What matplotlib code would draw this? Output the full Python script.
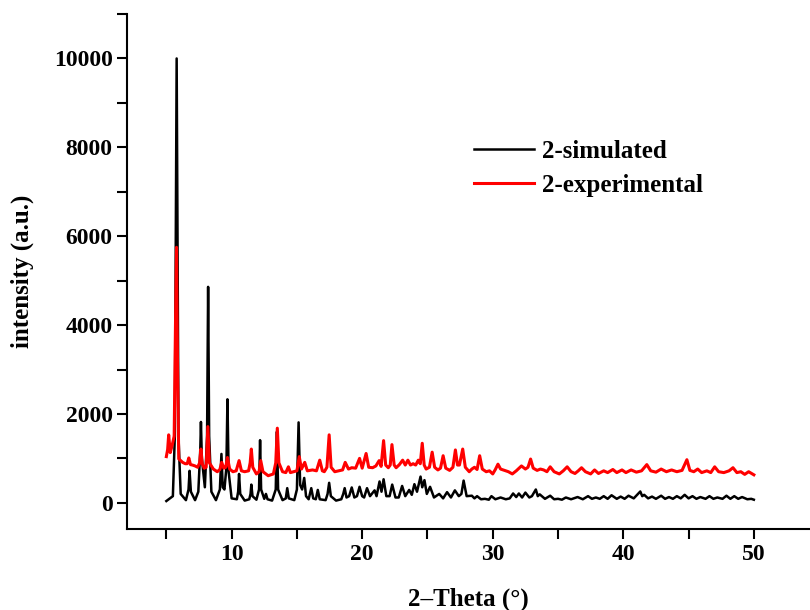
import matplotlib.pyplot as plt
from matplotlib.ticker import MultipleLocator

plt.rcParams['font.family'] = ['Liberation Serif', 'DejaVu Serif']
plt.rcParams['font.weight'] = 'bold'

# simulated pattern, vertices
sim_x = [5.0, 5.5, 5.65, 5.79, 5.93, 6.1, 6.5, 6.7, 6.78, 6.88, 7.2, 7.45, 7.6, 7.65, 7.72,
         7.95, 8.12, 8.2, 8.28, 8.45, 8.8, 9.1, 9.22, 9.32, 9.45, 9.6, 9.68, 9.77, 10.0,
         10.4, 10.5, 10.57, 10.66, 11.0, 11.35, 11.45, 11.51, 11.6, 11.9, 12.1, 12.18, 12.26,
         12.5, 12.63, 12.75, 13.1, 13.38, 13.47, 13.56, 13.9, 14.15, 14.26, 14.38, 14.8,
         15.0, 15.13, 15.25, 15.4, 15.56, 15.7, 15.9, 16.1, 16.25, 16.45, 16.6, 16.75, 17.2,
         17.35, 17.47, 17.6, 18.0, 18.4, 18.55, 18.66, 18.8, 19.0, 19.2, 19.4, 19.6, 19.8,
         20.0, 20.15, 20.37, 20.6, 20.95, 21.1, 21.33, 21.48, 21.64, 21.85, 22.1, 22.3, 22.55,
         22.8, 23.06, 23.3, 23.6, 23.8, 24.0, 24.2, 24.47, 24.6, 24.77, 24.95, 25.2, 25.5,
         25.9, 26.2, 26.5, 26.8, 27.1, 27.4, 27.6, 27.77, 28.0, 28.4, 28.6, 28.8, 29.1, 29.4,
         29.7, 29.9, 30.2, 30.6, 31.0, 31.3, 31.56, 31.8, 32.0, 32.25, 32.5, 32.8, 33.0, 33.3,
         33.45, 33.6, 34.0, 34.4, 34.7, 35.0, 35.3, 35.6, 36.0, 36.5, 36.9, 37.3, 37.6, 37.9,
         38.2, 38.5, 38.8, 39.1, 39.5, 39.8, 40.1, 40.4, 40.8, 41.3, 41.45, 41.6, 41.9, 42.2,
         42.5, 42.9, 43.2, 43.5, 43.8, 44.1, 44.4, 44.7, 45.0, 45.3, 45.6, 45.9, 46.3, 46.6,
         46.9, 47.2, 47.6, 47.9, 48.2, 48.5, 48.8, 49.1, 49.5, 49.8, 50.0]
sim_y = [40, 150, 1500, 10000, 1500, 200, 60, 300, 720, 250, 60, 250, 1200, 1820, 1000,
         350, 1500, 4860, 1500, 250, 60, 300, 1100, 350, 300, 800, 2330, 700, 100,
         80, 250, 650, 200, 50, 80, 200, 410, 150, 70, 300, 1410, 300,
         90, 200, 80, 50, 300, 1600, 300, 60, 100, 330, 100, 60,
         300, 1810, 400, 300, 560, 150, 80, 330, 100, 80, 290, 80, 60,
         200, 450, 150, 50, 80, 200, 330, 120, 150, 345, 120, 150, 360,
         150, 120, 330, 150, 280, 150, 480, 250, 530, 150, 150, 410, 120,
         120, 380, 150, 290, 180, 420, 250, 590, 350, 510, 200, 360, 120,
         200, 100, 240, 120, 280, 150, 200, 500, 150, 160, 100, 150, 80, 90,
         70, 150, 80, 120, 80, 100, 210, 130, 210, 120, 230, 120, 150, 300,
         150, 190, 90, 160, 80, 90, 70, 120, 80, 130, 80, 150, 90, 120,
         90, 150, 90, 170, 90, 140, 90, 160, 100, 255, 150, 180, 100, 140,
         90, 160, 90, 130, 90, 150, 100, 180, 100, 150, 90, 130, 90, 150,
         90, 120, 90, 160, 90, 150, 90, 130, 80, 90, 70]

# experimental pattern
exp_x = [5.0, 5.1, 5.18, 5.3, 5.45, 5.6, 5.7, 5.78, 5.86, 5.95, 6.1, 6.25, 6.45, 6.6, 6.72,
         6.85, 7.0, 7.2, 7.4, 7.55, 7.65, 7.75, 7.9, 8.05, 8.18, 8.3, 8.6, 8.9, 9.1, 9.24,
         9.4, 9.55, 9.68, 9.85, 10.1, 10.35, 10.57, 10.75, 11.0, 11.3, 11.42, 11.51, 11.62,
         11.9, 12.1, 12.23, 12.4, 12.8, 13.2, 13.38, 13.5, 13.62, 13.9, 14.15, 14.35, 14.5,
         14.75, 15.0, 15.18, 15.35, 15.6, 15.8, 16.2, 16.5, 16.75, 16.95, 17.1, 17.3, 17.47,
         17.62, 17.9, 18.2, 18.5, 18.7, 18.95, 19.2, 19.5, 19.8, 20.0, 20.3, 20.5, 20.8,
         21.05, 21.3, 21.45, 21.64, 21.8, 22.0, 22.15, 22.28, 22.45, 22.6, 22.85, 23.1, 23.3,
         23.5, 23.7, 23.9, 24.1, 24.3, 24.45, 24.6, 24.75, 24.9, 25.15, 25.36, 25.55, 25.8,
         26.0, 26.2, 26.4, 26.7, 26.95, 27.14, 27.3, 27.45, 27.7, 27.9, 28.2, 28.4, 28.6,
         28.8, 29.0, 29.2, 29.5, 29.75, 30.0, 30.2, 30.4, 30.6, 30.9, 31.2, 31.5, 31.8, 32.2,
         32.5, 32.7, 32.9, 33.1, 33.4, 33.65, 33.9, 34.15, 34.4, 34.7, 35.1, 35.4, 35.7, 36.0,
         36.3, 36.55, 36.8, 37.1, 37.5, 37.8, 38.1, 38.5, 38.8, 39.2, 39.5, 39.9, 40.2, 40.6,
         41.0, 41.4, 41.8, 42.1, 42.5, 42.9, 43.3, 43.7, 44.1, 44.5, 44.87, 45.1, 45.4, 45.7,
         46.0, 46.4, 46.7, 47.0, 47.3, 47.7, 48.1, 48.4, 48.7, 49.0, 49.3, 49.6, 50.0]
exp_y = [1040, 1200, 1530, 1130, 1300, 1500, 4000, 5750, 3000, 990, 950, 910, 880, 880, 1010,
         860, 850, 830, 800, 900, 1210, 880, 780, 800, 1715, 900, 760, 700, 750, 910,
         780, 800, 1020, 760, 700, 720, 950, 720, 700, 720, 900, 1210, 800,
         650, 700, 950, 700, 610, 650, 900, 1680, 900, 700, 680, 810, 680,
         700, 720, 1040, 760, 910, 720, 740, 720, 960, 720, 700, 800, 1530,
         800, 700, 720, 740, 910, 760, 790, 780, 1000, 780, 1110, 800, 790,
         830, 950, 820, 1400, 850, 790, 850, 1310, 850, 790, 860, 960, 850,
         960, 850, 880, 850, 960, 880, 1340, 850, 760, 800, 1140, 800, 740,
         780, 1060, 780, 730, 800, 1190, 850, 850, 1210, 800, 700, 760, 800,
         750, 1060, 760, 700, 720, 650, 750, 870, 760, 730, 700, 650, 720, 830,
         760, 800, 985, 780, 730, 760, 740, 700, 810, 700, 650, 720, 810, 700,
         660, 720, 790, 700, 650, 740, 660, 720, 680, 750, 680, 740, 680, 740,
         690, 720, 860, 720, 690, 760, 700, 740, 700, 730, 970, 730, 700, 760,
         680, 720, 680, 810, 700, 680, 720, 790, 680, 700, 640, 700, 630]

fig = plt.figure(figsize=(8.1, 6.1), dpi=100)
ax = fig.add_axes([0.157, 0.132, 0.843, 0.845])

ax.plot(sim_x, sim_y, color='black', lw=1.8, label='2-simulated')
ax.plot(exp_x, exp_y, color='red', lw=2.2, label='2-experimental')

ax.set_xlim(2, 54.3)
ax.set_ylim(-600, 11000)
ax.xaxis.set_major_locator(MultipleLocator(10))
ax.xaxis.set_minor_locator(MultipleLocator(5))
ax.yaxis.set_major_locator(MultipleLocator(2000))
ax.yaxis.set_minor_locator(MultipleLocator(1000))
ax.tick_params(which='both', direction='out', width=1.5, length=7, labelsize=17)

for side in ['top', 'right']:
    ax.spines[side].set_visible(False)
for side in ['left', 'bottom']:
    ax.spines[side].set_linewidth(1.5)

ax.set_xlabel('2\u2013Theta (\u00b0)', fontsize=18, fontweight='bold', labelpad=16)
ax.set_ylabel('intensity (a.u.)', fontsize=18, fontweight='bold', labelpad=14)

ax.legend(loc='upper left', bbox_to_anchor=(0.475, 0.80), frameon=False, fontsize=18,
          handlelength=2.4, handletextpad=0.3, labelspacing=0.45)

fig.savefig('out.png', dpi=100)
